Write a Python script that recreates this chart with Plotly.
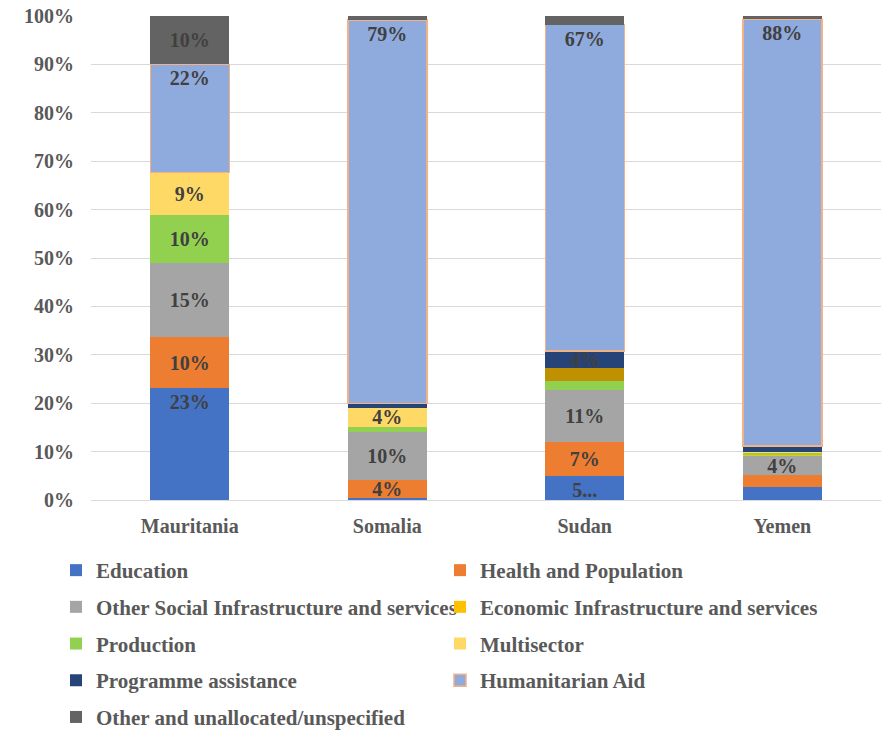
import plotly.graph_objects as go

categories = ["Mauritania", "Somalia", "Sudan", "Yemen"]

series_names = [
    "Education",
    "Health and Population",
    "Other Social Infrastructure and services",
    "Economic Infrastructure and services",
    "Production",
    "Multisector",
    "Programme assistance",
    "Humanitarian Aid",
    "Other and unallocated/unspecified",
]

education = [23.1, 0.4, 5.0, 2.6]
health = [10.5, 3.7, 7.0, 2.5]
other_social = [15.3, 9.9, 10.7, 3.9]
economic = [0.0, 0.0, 0.0, 0.4]
production = [9.9, 1.0, 1.9, 0.4]
multisector = [8.9, 4.1, 2.6, 0.2]
programme = [0.0, 0.8, 3.6, 1.2]
humanitarian = [22.3, 79.3, 67.4, 88.1]
other_unalloc = [9.9, 0.8, 1.7, 0.7]

values = [education, health, other_social, economic, production,
          multisector, programme, humanitarian, other_unalloc]

colors = ["#4472C4", "#ED7D31", "#A5A5A5", "#FFC000", "#92D050",
          "#FFD966", "#264478", "#8FAADC", "#636363"]
# per-point colour override (Sudan multisector drawn darker in source)
multisector_point_colors = ["#FFD966", "#FFD966", "#BF9000", "#FFD966"]

# labels shown only for larger segments; Sudan education truncated in source
label_overrides = {(0, 2): "5..."}

legend_col = ["legend", "legend2", "legend", "legend2", "legend",
              "legend2", "legend", "legend2", "legend"]
anchor_end = {0, 7}

FONT = "Liberation Serif"

fig = go.Figure()
for i, (name, vals) in enumerate(zip(series_names, values)):
    texts = []
    for j, v in enumerate(vals):
        if (i, j) in label_overrides:
            texts.append(label_overrides[(i, j)])
        elif v >= 3.5:
            texts.append(f"{v:.0f}%")
        else:
            texts.append("")
    mcolor = multisector_point_colors if i == 5 else colors[i]
    line = dict(width=1.5, color="#F4B183") if i == 7 else dict(width=0)
    fig.add_trace(go.Bar(
        x=categories, y=vals, name=name,
        marker=dict(color=mcolor, line=line),
        text=texts, textposition="inside",
        insidetextanchor="end" if i in anchor_end else "middle",
        textangle=0,
        constraintext="none",
        textfont=dict(family=FONT, size=20, color="#404040", weight="bold"),
        legend=legend_col[i], legendgroup=f"g{i}",
        hoverinfo="skip",
    ))

legend_common = dict(
    orientation="v", traceorder="grouped", tracegroupgap=6.4,
    bgcolor="rgba(0,0,0,0)",
    font=dict(family=FONT, size=21, color="#595959", weight="bold"),
    xref="container", yref="container", xanchor="left", yanchor="top",
)

fig.update_layout(
    width=893, height=731,
    margin=dict(l=91, r=12, t=16, b=231, autoexpand=False),
    paper_bgcolor="white", plot_bgcolor="white",
    barmode="stack", bargap=0.6,
    showlegend=True,
    legend=dict(x=56 / 893, y=1 - 550 / 731, **legend_common),
    legend2=dict(x=440 / 893, y=1 - 550 / 731, **legend_common),
    xaxis=dict(
        showgrid=False, showline=False, ticks="",
        tickangle=0,
        tickfont=dict(family=FONT, size=20, color="#595959", weight="bold"),
        ticklabelstandoff=12,
    ),
    yaxis=dict(
        range=[0, 100], dtick=10, ticksuffix="%",
        showgrid=True, gridcolor="#D9D9D9", gridwidth=1,
        zeroline=True, zerolinecolor="#D9D9D9", zerolinewidth=1,
        showline=False, ticks="",
        ticklabeloverflow="allow",
        tickfont=dict(family=FONT, size=20, color="#595959", weight="bold"),
        ticklabelstandoff=16,
    ),
)

fig.write_html(
    "out.html",
    config={"displayModeBar": False, "staticPlot": True},
    post_script="document.body.style.margin='0';document.body.style.padding='0';",
)
